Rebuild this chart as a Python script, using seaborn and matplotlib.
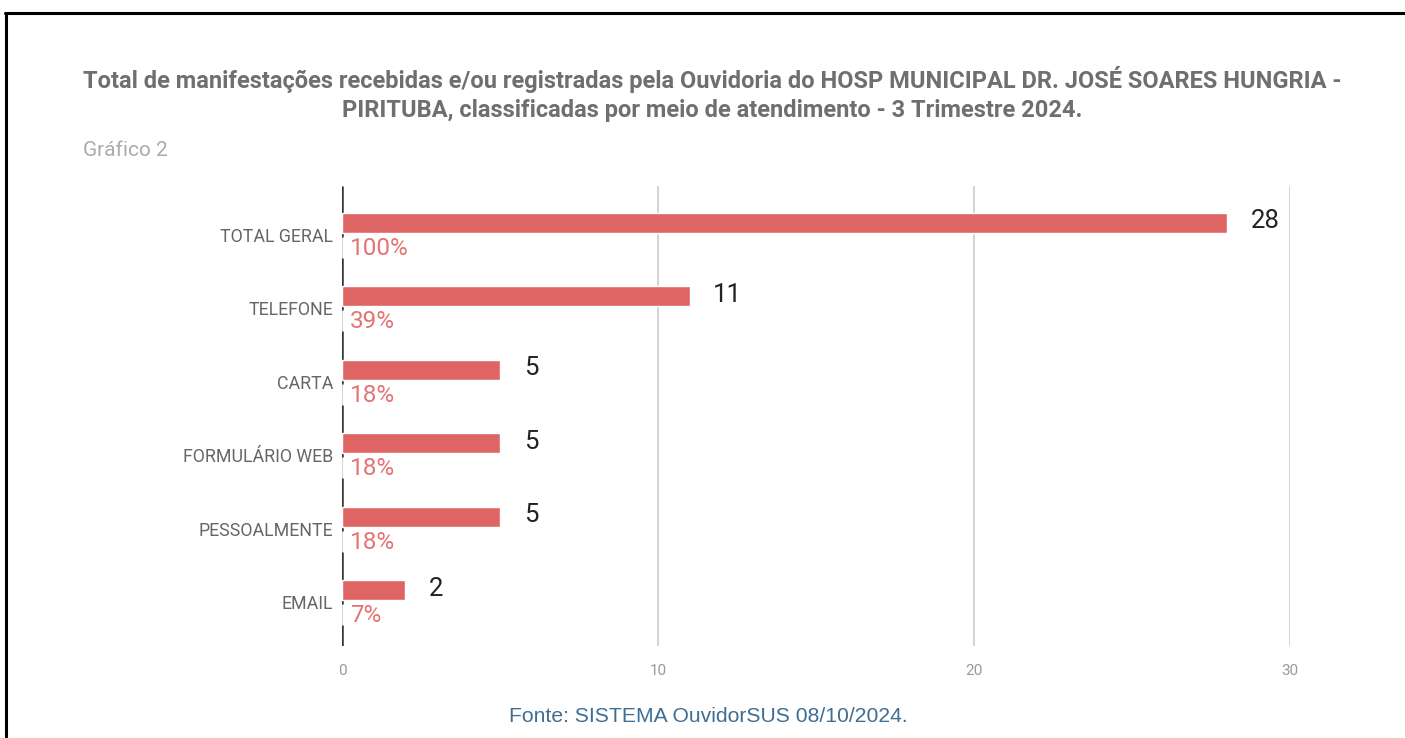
import matplotlib
matplotlib.use("Agg")
import matplotlib.pyplot as plt
import matplotlib.transforms as mtransforms
from matplotlib.lines import Line2D
import pandas as pd
import seaborn as sns

# Data
categories = ["TOTAL GERAL", "TELEFONE", "CARTA", "FORMULÁRIO WEB", "PESSOALMENTE", "EMAIL"]
values = [28, 11, 5, 5, 5, 2]
percent_labels = ["100%", "39%", "18%", "18%", "18%", "7%"]
x_ticks = [0, 10, 20, 30]

title = ("Total de manifestações recebidas e/ou registradas pela Ouvidoria do HOSP MUNICIPAL DR. JOSÉ SOARES HUNGRIA -\n"
         "PIRITUBA, classificadas por meio de atendimento - 3 Trimestre 2024.")
subtitle = "Gráfico 2"
source = "Fonte: SISTEMA OuvidorSUS 08/10/2024."

BAR_COLOR = "#df6565"
PCT_COLOR = "#e57373"


def main():
    df = pd.DataFrame({"meio": categories, "total": values})

    sns.set_theme(style="white")
    plt.rcParams["font.family"] = ["Roboto", "DejaVu Sans"]

    fig = plt.figure(figsize=(14.05, 7.38), dpi=100)
    ax = fig.add_axes([342 / 1405, 1 - 646 / 738, (1290 - 342) / 1405, (646 - 186) / 738])

    sns.barplot(data=df, x="total", y="meio", orient="h", color=BAR_COLOR,
                width=0.27, saturation=1, ax=ax, zorder=3)

    n = len(categories)
    ax.set_xlim(0, 30)
    ax.set_ylim(n - 1 + 0.76, -0.5)
    ax.set_xticks(x_ticks)
    ax.set_xticklabels([str(t) for t in x_ticks])
    ax.set_xlabel("")
    ax.set_ylabel("")

    # grid and axis
    for s in ax.spines.values():
        s.set_visible(False)
    ax.grid(axis="x", color="#cccccc", linewidth=1.2, zorder=0)
    ax.grid(axis="y", visible=False)
    # baseline at 0, broken where the percentage labels sit
    starts = [-0.5] + [i + 0.48 for i in range(n)]
    ends = [i + 0.19 for i in range(n)] + [n - 1 + 0.76]
    ax.vlines([0] * len(starts), starts, ends, color="#333333", linewidth=1.8, zorder=1)
    ax.tick_params(axis="x", length=0, pad=13, labelsize=11, labelcolor="#999999")
    ax.tick_params(axis="y", length=0, pad=6.5, labelsize=12.8, labelcolor="#666666")

    down = mtransforms.ScaledTranslation(0, -12 / 100, fig.dpi_scale_trans)
    for lab in ax.get_yticklabels():
        lab.set_transform(lab.get_transform() + down)

    # value and percentage labels
    for i, (v, p) in enumerate(zip(values, percent_labels)):
        ax.annotate(str(v), xy=(v, i), xytext=(17, 1), textcoords="offset points",
                    ha="left", va="center", fontsize=18.5, color="#222222", zorder=5)
        ax.annotate(p, xy=(0, i), xytext=(5.5, -18.5), textcoords="offset points",
                    ha="left", va="center", fontsize=17.5, color=PCT_COLOR, zorder=4)

    # titles and source
    fig.text(712 / 1405, 1 - 94 / 738, title, ha="center", va="center",
             fontsize=17, fontweight="bold", color="#6f6f6f", linespacing=1.35)
    fig.text(83 / 1405, 1 - 151 / 738, subtitle, ha="left", va="center",
             fontsize=15, color="#ababab")
    fig.text(708 / 1405, 1 - 716 / 738, source, ha="center", va="center",
             fontsize=15.2, color="#3f6e94", family=["Liberation Sans", "DejaVu Sans"])

    # frame lines of the screenshot
    fig.add_artist(Line2D([5 / 1405, 1], [1 - 13 / 738, 1 - 13 / 738], color="black", linewidth=2.2))
    fig.add_artist(Line2D([6.5 / 1405, 6.5 / 1405], [0, 1 - 13 / 738], color="black", linewidth=2.2))

    fig.savefig("out.png", dpi=100)
    plt.close(fig)


if __name__ == "__main__":
    main()
